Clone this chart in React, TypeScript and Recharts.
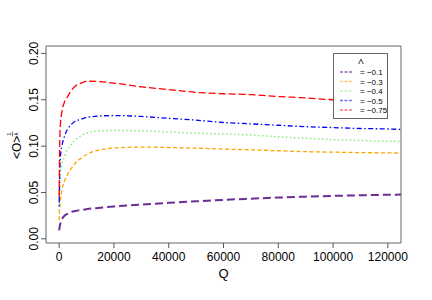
import { LineChart, Line, XAxis, YAxis, ReferenceArea } from "recharts"

const qValues = [0, 250, 500, 1000, 2000, 3000, 4000, 6000, 8000, 10000, 15000, 20000, 30000, 40000, 50000, 60000, 70000, 80000, 90000, 100000, 110000, 120000, 124800]

const lam01 = [0.009, 0.014, 0.017, 0.021, 0.025, 0.027, 0.0285, 0.030, 0.031, 0.032, 0.0335, 0.035, 0.037, 0.0388, 0.0405, 0.042, 0.0433, 0.0445, 0.0455, 0.0463, 0.047, 0.0475, 0.0477]
const lam03 = [0.02, 0.035, 0.043, 0.052, 0.063, 0.069, 0.074, 0.082, 0.087, 0.091, 0.096, 0.098, 0.099, 0.0985, 0.0978, 0.0968, 0.096, 0.095, 0.094, 0.0935, 0.093, 0.0927, 0.0925]
const lam04 = [0.03, 0.065, 0.072, 0.080, 0.089, 0.096, 0.100, 0.107, 0.111, 0.114, 0.1165, 0.117, 0.1165, 0.1152, 0.114, 0.113, 0.112, 0.110, 0.1085, 0.107, 0.106, 0.1053, 0.105]
const lam05 = [0.035, 0.075, 0.09, 0.100, 0.111, 0.118, 0.122, 0.127, 0.129, 0.131, 0.1325, 0.133, 0.132, 0.130, 0.128, 0.1255, 0.124, 0.1225, 0.121, 0.120, 0.119, 0.1185, 0.118]
// the -0.75 run stops under the legend
const lam075 = [0.045, 0.11, 0.125, 0.137, 0.148, 0.153, 0.158, 0.165, 0.168, 0.170, 0.1695, 0.168, 0.164, 0.161, 0.158, 0.1565, 0.1555, 0.1535, 0.152, 0.150, 0.149, null, null]

const xTicks = [0, 20000, 40000, 60000, 80000, 100000, 120000]
const yTicks = [0, 0.05, 0.1, 0.15, 0.2]
const legendLabels = ["= \u22120.1", "= \u22120.3", "= \u22120.4", "= \u22120.5", "= \u22120.75"]

const xDomain = [-4800, 124800]
const yDomain = [-0.0045, 0.208]

const series = [
  { key: "l01", values: lam01, color: "#6B2D96", dash: "8 4", width: 2 },
  { key: "l03", values: lam03, color: "#FFA500", dash: "4 2.5", width: 1.3 },
  { key: "l04", values: lam04, color: "#85EE7A", dash: "1.5 2.5", width: 1.5 },
  { key: "l05", values: lam05, color: "#0000FF", dash: "1.5 2.5 5 2.5", width: 1.3 },
  { key: "l075", values: lam075, color: "#FF0000", dash: "7 3", width: 1.3 },
]

const data = qValues.map((q, i) => {
  const row: any = { q }
  series.forEach((s) => { row[s.key] = s.values[i] })
  return row
})

const font = "'Liberation Sans', Arial, Helvetica, sans-serif"

const YTick = ({ x, y, payload }: any) => (
  <text x={x} y={y} transform={`rotate(-90, ${x}, ${y})`} textAnchor="middle" fontSize={12} fontFamily={font} fill="#000">
    {payload.value.toFixed(2)}
  </text>
)

const YLabel = () => (
  <g transform="translate(21, 159) rotate(-90)" fontFamily={font} fill="#000">
    <text x={0} y={0} fontSize={12}>{"<O>"}</text>
    <text x={25} y={-10} fontSize={6} textAnchor="middle">1</text>
    <line x1={22.5} x2={27.5} y1={-8.5} y2={-8.5} stroke="#000" strokeWidth={0.5} />
    <text x={25} y={-3} fontSize={6} textAnchor="middle">λ</text>
  </g>
)

const LegendBox = () => (
  <div style={{ position: "absolute", left: 333, top: 53, width: 55, height: 66, border: "1px solid #666", background: "#fff", boxSizing: "border-box", fontFamily: font }}>
    <svg width={53} height={64} style={{ display: "block" }}>
      <text x={27} y={10} textAnchor="middle" fontSize={8}>Λ</text>
      {series.map((s, i) => (
        <g key={s.key}>
          <line x1={6} x2={19} y1={18 + i * 9.5} y2={18 + i * 9.5} stroke={s.color} strokeOpacity={0.55} strokeWidth={s.width} strokeDasharray="3 1.5" />
          <text x={26} y={21 + i * 9.5} fontSize={8}>{legendLabels[i]}</text>
        </g>
      ))}
    </svg>
  </div>
)

export default function App() {
  return (
    <div style={{ position: "absolute", left: 0, top: 0, width: 432, height: 300, background: "#fff" }}>
      <LineChart width={432} height={300} data={data} margin={{ top: 46, right: 31, bottom: 0, left: 0 }}>
        <XAxis
          dataKey="q"
          type="number"
          domain={xDomain}
          allowDataOverflow
          ticks={xTicks}
          interval={0}
          height={57}
          axisLine={false}
          tickSize={5}
          tickMargin={4}
          tickLine={{ stroke: "#555" }}
          tick={{ fontSize: 12, fontFamily: font, fill: "#000" }}
          label={{ value: "Q", position: "insideBottom", offset: 22, fontSize: 13, fontFamily: font, fill: "#000" }}
        />
        <YAxis
          type="number"
          domain={yDomain}
          allowDataOverflow
          ticks={yTicks}
          interval={0}
          width={46}
          axisLine={false}
          tickSize={5}
          tickMargin={3}
          tickLine={{ stroke: "#555" }}
          tick={<YTick />}
          label={<YLabel />}
        />
        <ReferenceArea x1={xDomain[0]} x2={xDomain[1]} y1={yDomain[0]} y2={yDomain[1]} fill="none" stroke="#666" strokeWidth={1} ifOverflow="visible" />
        {series.map((s) => (
          <Line
            key={s.key}
            type="monotone"
            dataKey={s.key}
            stroke={s.color}
            strokeWidth={s.width}
            strokeDasharray={s.dash}
            dot={false}
            isAnimationActive={false}
          />
        ))}
      </LineChart>
      <LegendBox />
    </div>
  )
}
